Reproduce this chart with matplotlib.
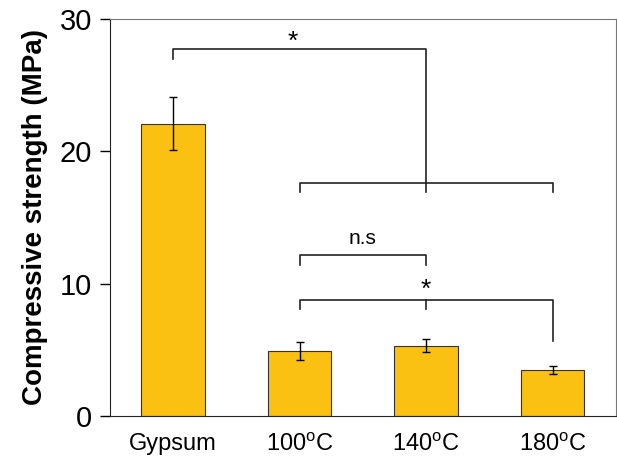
import matplotlib.pyplot as plt

plt.rcParams['font.family'] = ['Liberation Sans', 'DejaVu Sans']
plt.rcParams['mathtext.fontset'] = 'custom'
plt.rcParams['mathtext.rm'] = 'Liberation Sans'

grupos = ["Gypsum", "100$^{\\rm o}$C", "140$^{\\rm o}$C", "180$^{\\rm o}$C"]
resistencia = [22.1, 4.9, 5.3, 3.5]
error = [2.0, 0.7, 0.5, 0.3]

fig = plt.figure(figsize=(6.17, 4.63), dpi=100)
ax = fig.add_axes([0.178, 0.1015, 0.82, 0.8575])

x = range(len(grupos))
ax.bar(x, resistencia, width=0.5, color='#FAC012', edgecolor='#333333', linewidth=0.8)
ax.errorbar(x, resistencia, yerr=error, fmt='none', ecolor='black', elinewidth=1, capsize=3, capthick=1)

ax.set_xlim(-0.5, 3.5)
ax.set_ylim(0, 30)
ax.set_yticks([0, 10, 20, 30])
ax.set_xticks(list(x))
ax.set_xticklabels(grupos, fontsize=17)
ax.tick_params(axis='y', labelsize=21, length=7, width=1, direction='out', pad=6)
ax.tick_params(axis='x', length=0, pad=12)
ax.set_ylabel("Compressive strength (MPa)", fontsize=20, fontweight='bold', labelpad=8)

for s in ['top', 'right']:
    ax.spines[s].set_color('#777777')
for s in ['left', 'bottom']:
    ax.spines[s].set_color('#222222')

#corchetes de significancia
lc = dict(color='#222222', lw=1.2)
ax.plot([0, 0, 2, 2], [27.0, 27.7, 27.7, 17.6], **lc)
ax.text(0.95, 28.3, "*", ha='center', va='center', fontsize=19)
ax.plot([1, 1, 3, 3], [16.9, 17.6, 17.6, 16.9], **lc)
ax.plot([2, 2], [17.6, 16.9], **lc)

ax.plot([1, 1, 2, 2], [11.4, 12.2, 12.2, 11.4], **lc)
ax.text(1.5, 13.4, "n.s", ha='center', va='center', fontsize=15)

ax.plot([1, 1, 3, 3], [8.1, 8.8, 8.8, 5.7], **lc)
ax.plot([2, 2], [8.8, 8.1], **lc)
ax.text(2, 9.5, "*", ha='center', va='center', fontsize=19)

fig.savefig("out.png", dpi=100)
